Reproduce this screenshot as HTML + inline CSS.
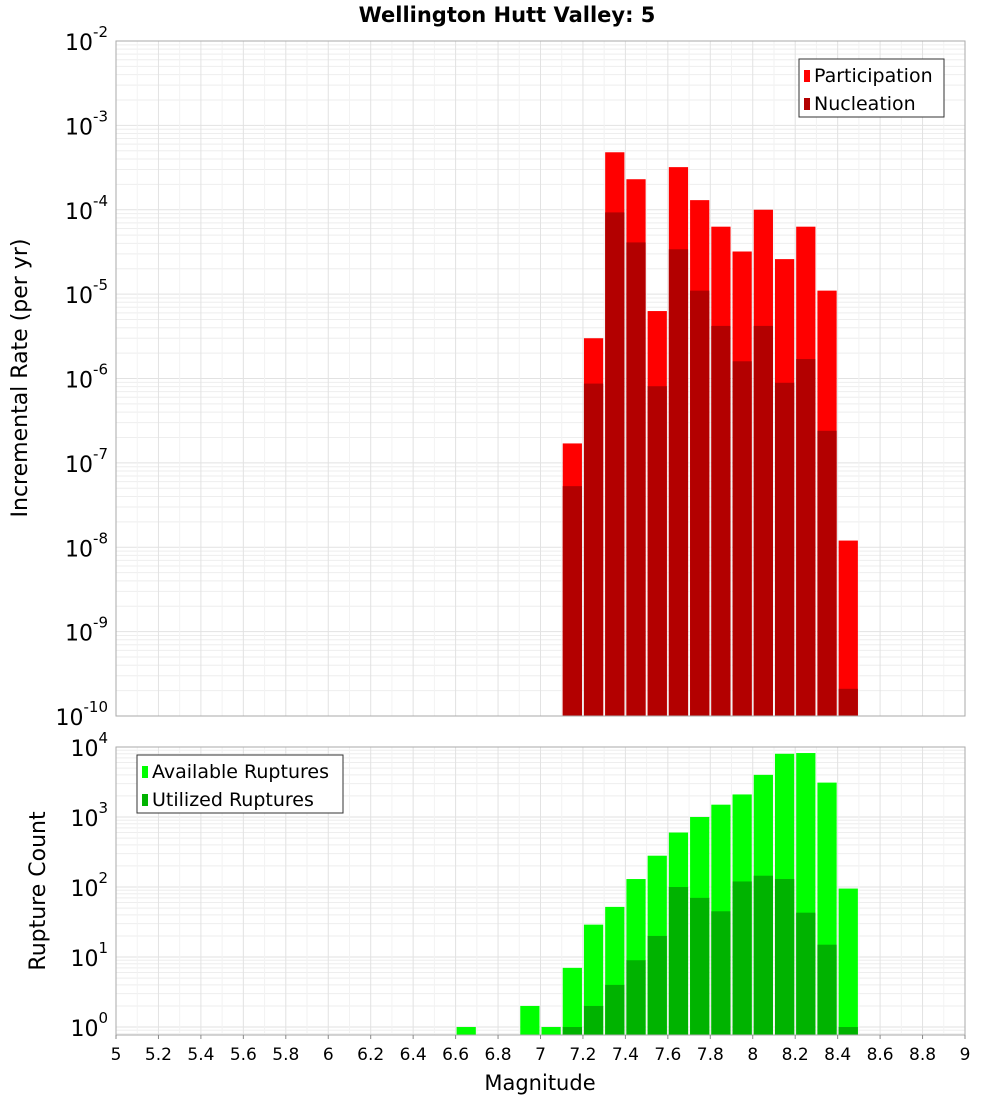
<!DOCTYPE html>
<html><head><meta charset="utf-8"><style>
body{margin:0;background:#fff;font-family:"DejaVu Sans","Liberation Sans",sans-serif}
</style></head><body>
<svg id="c" width="1000" height="1100" xmlns="http://www.w3.org/2000/svg" style="font-family:'DejaVu Sans','Liberation Sans',sans-serif"></svg>
<script>
const mags=[7.15,7.25,7.35,7.45,7.55,7.65,7.75,7.85,7.95,8.05,8.15,8.25,8.35,8.45];
const participation=[1.7e-7,3e-6,4.8e-4,2.3e-4,6.3e-6,3.2e-4,1.3e-4,6.3e-5,3.2e-5,1.0e-4,2.6e-5,6.3e-5,1.1e-5,1.2e-8];
const nucleation=[5.3e-8,8.7e-7,9.3e-5,4.1e-5,8.1e-7,3.4e-5,1.1e-5,4.2e-6,1.6e-6,4.2e-6,8.9e-7,1.7e-6,2.4e-7,2.1e-10];
const countMags=[6.65,6.95,7.05,7.15,7.25,7.35,7.45,7.55,7.65,7.75,7.85,7.95,8.05,8.15,8.25,8.35,8.45];
const available=[1,2,1,7,29,52,130,280,600,1000,1500,2100,4000,8000,8200,3100,95];
const utilized=[0,0,0,1,2,4,9,20,100,70,45,120,145,130,43,15,1];
const xTicks=["5","5.2","5.4","5.6","5.8","6","6.2","6.4","6.6","6.8","7","7.2","7.4","7.6","7.8","8","8.2","8.4","8.6","8.8","9"];

const svg=document.getElementById('c');const NS="http://www.w3.org/2000/svg";
function el(t,a,p){const e=document.createElementNS(NS,t);for(const k in a)e.setAttribute(k,a[k]);(p||svg).appendChild(e);return e;}
const L=116,R=965;
const X=m=>L+(m-5)/4*(R-L);
const T={top:41,bot:716,lo:-10,hi:-2};
const B={top:747,bot:1035,lo:-0.114,hi:4};
const Y=(P,v)=>P.top+(P.hi-Math.log10(v))/(P.hi-P.lo)*(P.bot-P.top);

function panel(P,name){
  const g=el('g',{});
  for(let d=Math.floor(P.lo);d<P.hi;d++)for(let k=1;k<10;k++){const v=k*Math.pow(10,d);const lv=Math.log10(v);if(lv<P.lo||lv>P.hi)continue;
    const y=Y(P,v);el('line',{x1:L,x2:R,y1:y,y2:y,stroke:k==1?'#e2e2e2':'#eeeeee','stroke-width':1},g);}
  for(let i=0;i<=40;i++){const x=X(5+i*0.1);el('line',{x1:x,x2:x,y1:P.top,y2:P.bot,stroke:i%2==0?'#e2e2e2':'#f2f2f2','stroke-width':1},g);}
}
panel(T,'top');panel(B,'bottom');

function bars(P,ms,vals,col,nm){
  ms.forEach((m,i)=>{const v=vals[i];if(!(v>0))return;const y=Math.max(P.top,Y(P,v));
    const r=el('rect',{x:X(m-0.05)+1,y:y,width:X(m+0.05)-X(m-0.05)-2,height:P.bot-y,fill:col});
    });
}
bars(T,mags,participation,'#ff0000','participation');
bars(T,mags,nucleation,'#b30000','nucleation');
bars(B,countMags,available,'#00ff00','available');
bars(B,countMags,utilized,'#00b300','utilized');

[T,B].forEach(P=>el('rect',{x:L,y:P.top,width:R-L,height:P.bot-P.top,fill:'none',stroke:'#aaaaaa','stroke-width':1}));

// y tick labels
function ylabels(P,name){
  for(let d=Math.ceil(P.lo);d<=P.hi;d++){const y=Y(P,Math.pow(10,d));
    const t=el('text',{x:L-8,y:y+9,'text-anchor':'end','font-size':22,fill:'#000'});
    
    t.textContent='10';const s=el('tspan',{dy:-13,'font-size':15},t);s.textContent=String(d);}
}
ylabels(T,'top');ylabels(B,'bottom');

xTicks.forEach(s=>{const x=X(parseFloat(s));el('line',{x1:x,x2:x,y1:B.bot,y2:B.bot+4,stroke:'#888'});
  const t=el('text',{x:x,y:1060,'text-anchor':'middle','font-size':17});t.textContent=s;});

function txt(a,s,n){const t=el('text',a);t.textContent=s;return t;}
txt({x:507,y:22,'text-anchor':'middle','font-size':21,'font-weight':'bold'},'Wellington Hutt Valley: 5','chart-title');
txt({x:540,y:1090,'text-anchor':'middle','font-size':21},'Magnitude','x-axis-title');
txt({x:27,y:378,'text-anchor':'middle','font-size':22,transform:'rotate(-90 27 378)'},'Incremental Rate (per yr)','top-y-axis-title');
txt({x:45,y:891,'text-anchor':'middle','font-size':22,transform:'rotate(-90 45 891)'},'Rupture Count','bottom-y-axis-title');

function legend(x,y,w,items,n){const g=el('g',{});
  el('rect',{x:x,y:y,width:w,height:58,fill:'#fff',stroke:'#333','stroke-width':1},g);
  items.forEach((it,i)=>{el('rect',{x:x+5,y:y+11+i*28,width:6,height:12,fill:it[1]},g);
    const t=el('text',{x:x+15,y:y+23+i*28,'font-size':19},g);t.textContent=it[0];});}
legend(799,59,145,[['Participation','#ff0000'],['Nucleation','#b30000']],'top-legend');
legend(137,755,206,[['Available Ruptures','#00ff00'],['Utilized Ruptures','#00b300']],'bottom-legend');
</script>
</body></html>
